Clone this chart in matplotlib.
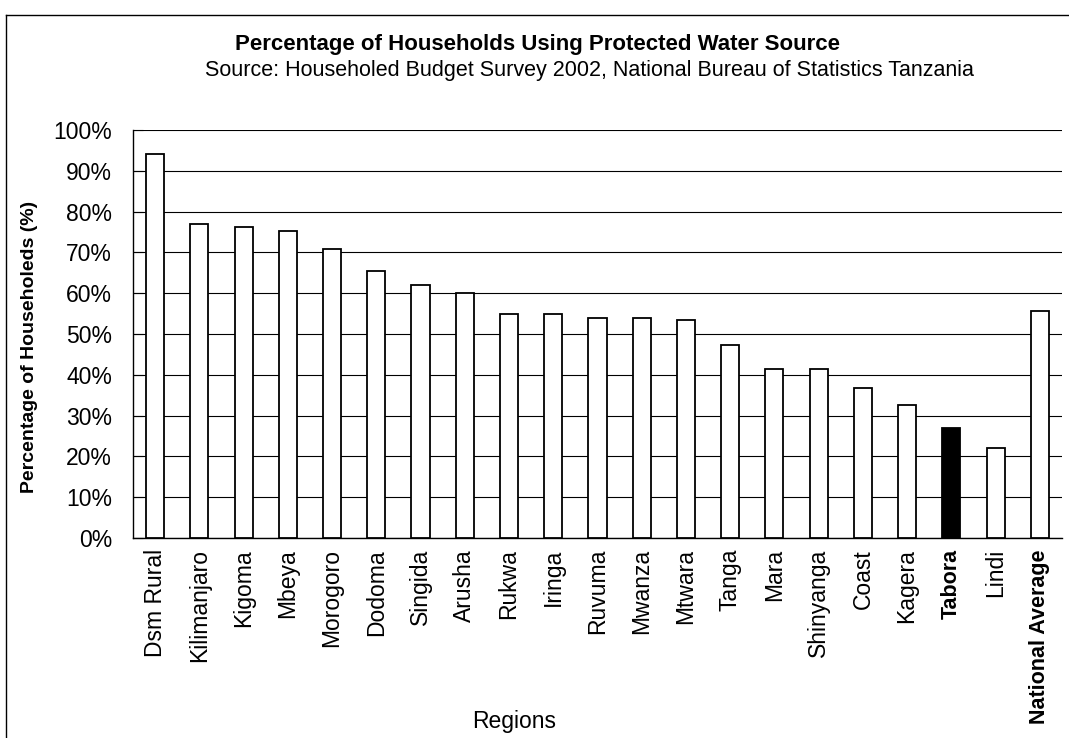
import matplotlib
matplotlib.use("Agg")
import matplotlib.pyplot as plt
from matplotlib.lines import Line2D
from matplotlib.ticker import PercentFormatter

# ------------------------------------------------------------------
# Data
# ------------------------------------------------------------------
regions = [
    "Dsm Rural", "Kilimanjaro", "Kigoma", "Mbeya", "Morogoro", "Dodoma",
    "Singida", "Arusha", "Rukwa", "Iringa", "Ruvuma", "Mwanza", "Mtwara",
    "Tanga", "Mara", "Shinyanga", "Coast", "Kagera", "Tabora", "Lindi",
    "National Average",
]
share_protected = [
    0.941, 0.770, 0.762, 0.753, 0.707, 0.655,
    0.619, 0.600, 0.550, 0.550, 0.540, 0.540, 0.533,
    0.474, 0.413, 0.413, 0.367, 0.325, 0.269, 0.220,
    0.555,
]
highlight = ["Tabora"]
bold_labels = ["Tabora", "National Average"]

plt.rcParams['font.family'] = ['Liberation Sans', 'DejaVu Sans']

fig = plt.figure(figsize=(10.69, 7.38), dpi=100)
ax = fig.add_axes([0.1244, 0.271, 0.869, 0.553])

x = range(len(regions))
colors = ['black' if r in highlight else 'white' for r in regions]
ax.bar(x, share_protected, width=0.41, color=colors,
       edgecolor='black', linewidth=1.3, zorder=3)

ax.set_xlim(-0.5, len(regions) - 0.5)
ax.set_ylim(0, 1.0)
ax.set_yticks([i / 10 for i in range(11)])
ax.yaxis.set_major_formatter(PercentFormatter(1.0, decimals=0))
ax.yaxis.grid(True, color='black', linewidth=0.8, zorder=0)
ax.set_axisbelow(True)

ax.set_xticks(list(x))
ax.set_xticklabels(regions, rotation=90, fontsize=16.5)
for lbl in ax.get_xticklabels():
    if lbl.get_text() in bold_labels:
        lbl.set_fontweight('bold')
        lbl.set_fontsize(15.5)
ax.tick_params(axis='x', length=0, pad=8)
ax.tick_params(axis='y', direction='in', length=7, labelsize=16.5, pad=15)

for side in ['top', 'right']:
    ax.spines[side].set_visible(False)
ax.spines['left'].set_linewidth(1.0)
ax.spines['bottom'].set_linewidth(1.0)

fig.text(0.028, 0.530, 'Percentage of Householeds (%)', rotation=90,
         ha='center', va='center', fontsize=14, fontweight='bold')

fig.text(0.503, 0.940, 'Percentage of Households Using Protected Water Source',
         ha='center', va='center', fontsize=16, fontweight='bold')
fig.text(0.551, 0.905,
         'Source: Householed Budget Survey 2002, National Bureau of Statistics Tanzania',
         ha='center', va='center', fontsize=15.5)
fig.text(0.481, 0.022, 'Regions', ha='center', va='center', fontsize=16.5)

# frame of the chart area (left and top edges visible in the scan)
fig.add_artist(Line2D([0.006, 0.006], [0.0, 0.98], color='black', linewidth=1.0,
                      transform=fig.transFigure))
fig.add_artist(Line2D([0.006, 1.0], [0.98, 0.98], color='black', linewidth=1.0,
                      transform=fig.transFigure))

fig.savefig('out.png', dpi=100)
